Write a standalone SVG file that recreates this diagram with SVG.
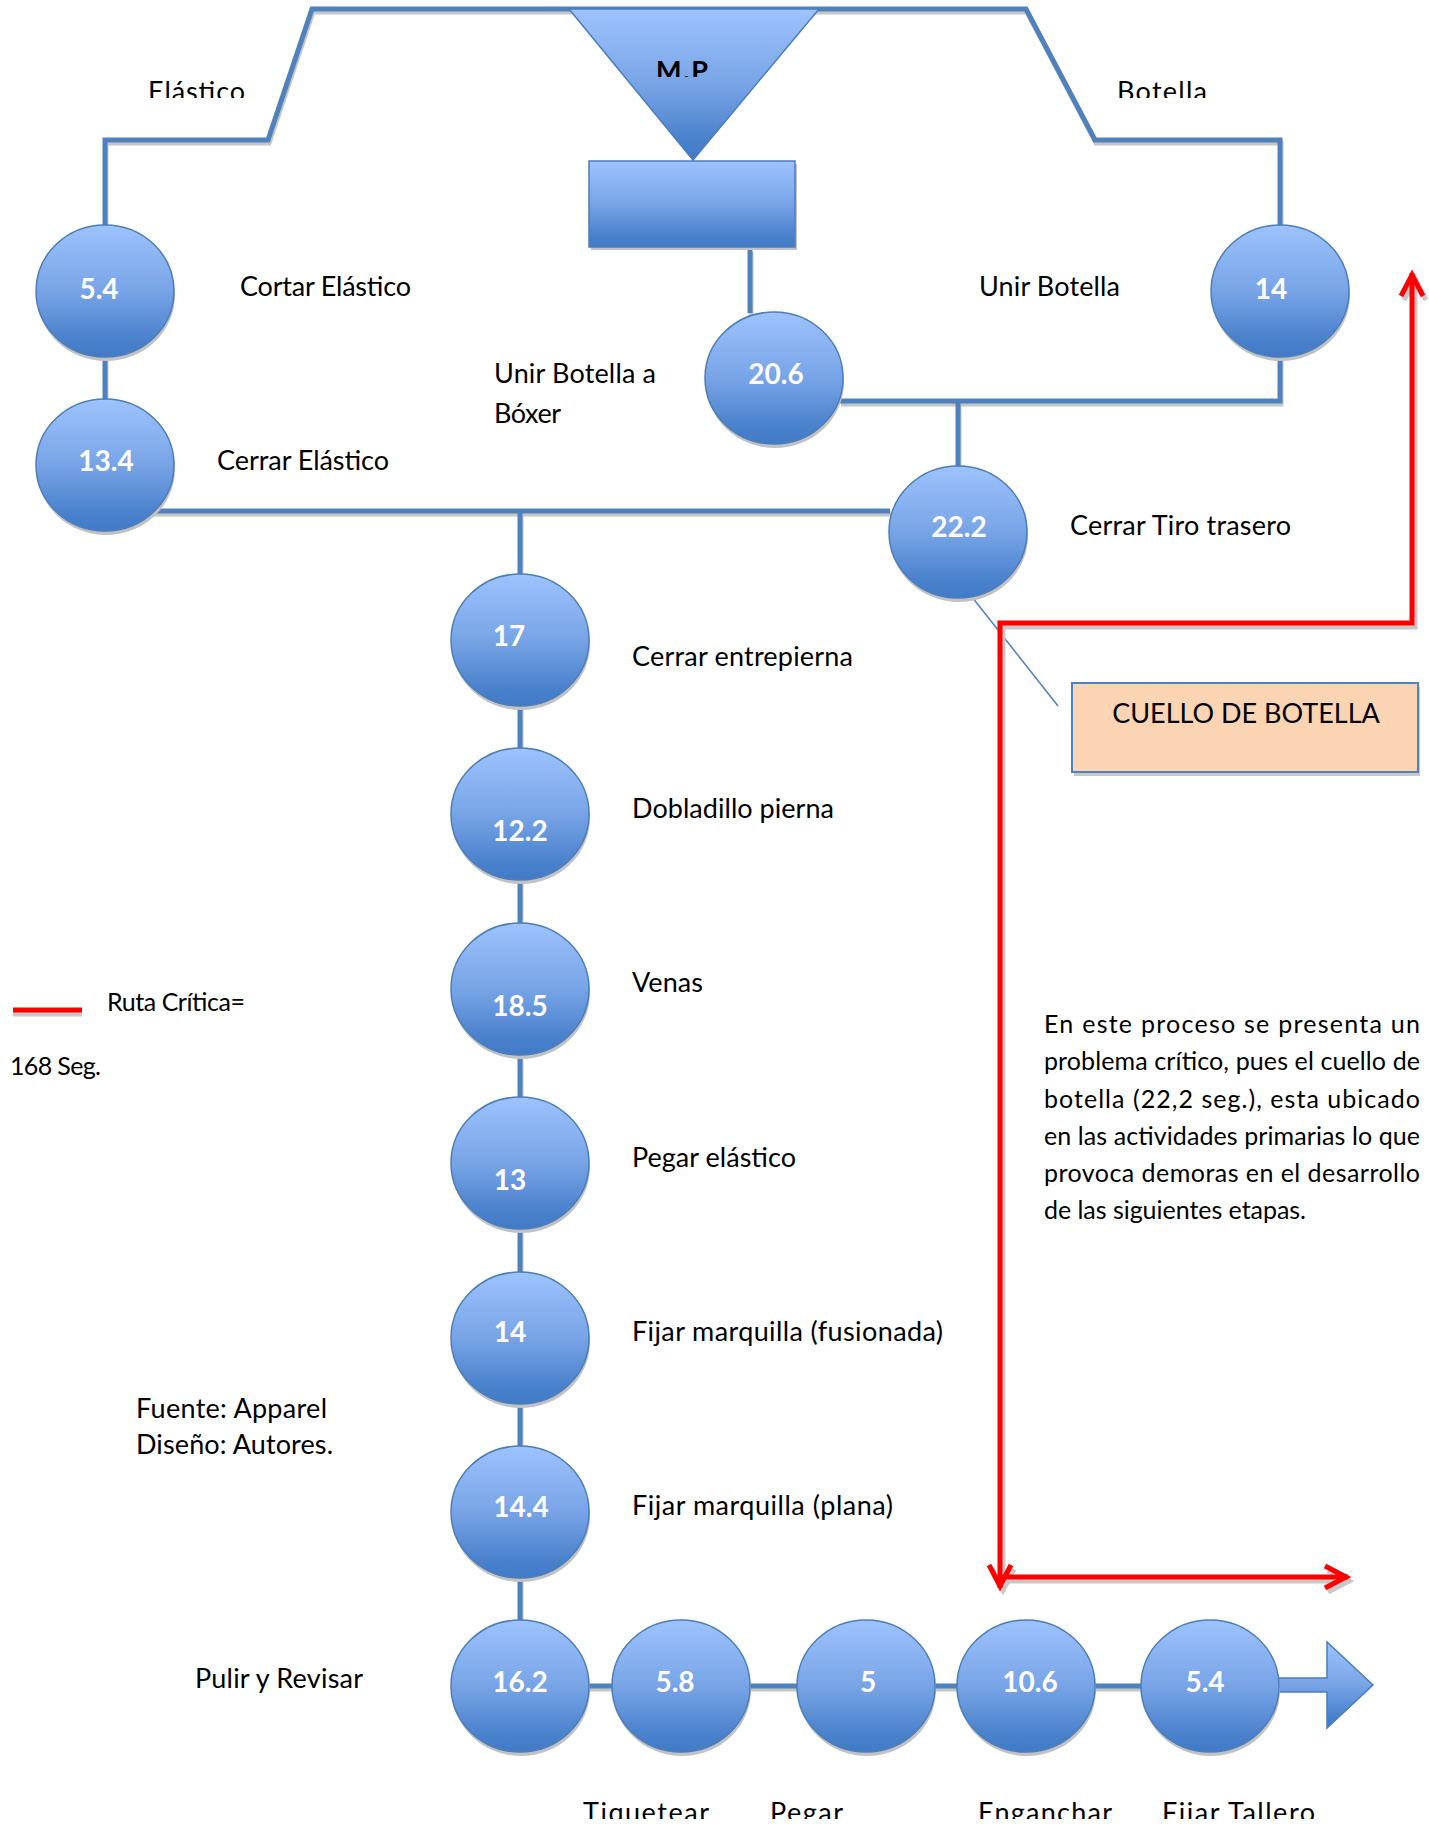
<svg xmlns="http://www.w3.org/2000/svg" width="1429" height="1824" viewBox="0 0 1429 1824">
<style>
.lbl{font-family:Lato,"Liberation Sans",sans-serif;font-size:27px;fill:#000}
.sm{font-size:25px}
.par{font-family:Lato,"Liberation Sans",sans-serif;font-size:25px;fill:#000}
.num{font-family:Lato,"Liberation Sans",sans-serif;font-weight:bold;font-size:28px;fill:#fff;text-anchor:middle}
.conn{stroke:#4F81BD;stroke-width:5;fill:none}
.connsh{stroke:#C6C6C6;stroke-width:5;fill:none}
.node{fill:url(#g);stroke:#4A7EBB;stroke-width:1.5}
.sh{fill:#C2C2C2}
.red{stroke:#FF0000;stroke-width:5;fill:none}
.redsh{stroke:#C8C8C8;stroke-width:5;fill:none}
</style>
<defs>
<linearGradient id="g" x1="0" y1="0" x2="0" y2="1">
<stop offset="0" stop-color="#9EC3FD"/>
<stop offset="0.5" stop-color="#78A4E6"/>
<stop offset="0.88" stop-color="#4880CB"/>
<stop offset="1" stop-color="#427AC6"/>
</linearGradient>
<marker id="ar" markerUnits="userSpaceOnUse" orient="auto-start-reverse" refX="0" refY="0" markerWidth="1" markerHeight="1" overflow="visible">
<path d="M-23,-11 L-2,0 L-23,11" fill="none" stroke="#FF0000" stroke-width="5"/>
</marker>
<marker id="arsh" markerUnits="userSpaceOnUse" orient="auto-start-reverse" refX="0" refY="0" markerWidth="1" markerHeight="1" overflow="visible">
<path d="M-23,-11 L-2,0 L-23,11" fill="none" stroke="#C8C8C8" stroke-width="5"/>
</marker>
<clipPath id="cTop"><rect x="0" y="0" width="1429" height="98"/></clipPath>
<clipPath id="cMP"><rect x="0" y="0" width="1429" height="77"/></clipPath>
<clipPath id="cBot"><rect x="0" y="0" width="1429" height="1819"/></clipPath>
</defs>
<rect width="1429" height="1824" fill="#fff"/>

<g id="connectors">
<g transform="translate(1,3)">
<path class="connsh" d="M105,227 V140 H268 L312,9 H1026 L1095,140 H1280 V227"/>
<path class="connsh" d="M105,357 V400 M750,249 V313 M840,401 H1280 V357 M958,401 V466 M150,511 H890 M520,511 V1686 H1210"/>
</g>
<path class="conn" d="M105,227 V140 H268 L312,9 H1026 L1095,140 H1280 V227"/>
<path class="conn" d="M105,357 V400 M750,249 V313 M840,401 H1280 V357 M958,401 V466 M150,511 H890 M520,511 V1686 H1210"/>
<line x1="972" y1="597" x2="1058" y2="706" stroke="#4F81BD" stroke-width="1.5"/>
</g>

<g id="node-mp">
<polygon points="569,9 819,9 693,160" fill="url(#g)" stroke="#4A7EBB" stroke-width="1.5"/>
<text class="lbl" x="656" y="80" font-weight="bold" font-size="29" textLength="52" clip-path="url(#cMP)">M.P</text>
</g>
<g id="node-box">
<rect x="591" y="164" width="206" height="86" class="sh"/>
<rect x="589" y="161" width="206" height="86" class="node"/>
</g>

<g id="label-elastico" clip-path="url(#cTop)"><text class="lbl" x="148" y="101" textLength="97">Elástico</text></g>
<g id="label-botella" clip-path="url(#cTop)"><text class="lbl" x="1117" y="101" textLength="90">Botella</text></g>

<g id="node-5-4a">
<ellipse class="sh" cx="106" cy="295" rx="69" ry="66"/>
<ellipse class="node" cx="105" cy="291" rx="69" ry="66"/>
<text class="num" x="99" y="299">5.4</text>
<text class="lbl" x="240" y="296" textLength="171">Cortar Elástico</text>
</g>
<g id="node-13-4">
<ellipse class="sh" cx="106" cy="469" rx="69" ry="66"/>
<ellipse class="node" cx="105" cy="465" rx="69" ry="66"/>
<text class="num" x="106" y="471">13.4</text>
<text class="lbl" x="217" y="470" textLength="172">Cerrar Elástico</text>
</g>
<g id="node-20-6">
<ellipse class="sh" cx="775" cy="382" rx="69" ry="66"/>
<ellipse class="node" cx="774" cy="378" rx="69" ry="66"/>
<text class="num" x="776" y="384">20.6</text>
<text class="lbl" x="494" y="383" textLength="162">Unir Botella a</text>
<text class="lbl" x="494" y="423" textLength="67">Bóxer</text>
</g>
<g id="node-14a">
<ellipse class="sh" cx="1281" cy="295" rx="69" ry="66"/>
<ellipse class="node" cx="1280" cy="291" rx="69" ry="66"/>
<text class="num" x="1271" y="299">14</text>
<text class="lbl" x="979" y="296" textLength="141">Unir Botella</text>
</g>
<g id="node-22-2">
<ellipse class="sh" cx="959" cy="536" rx="69" ry="66"/>
<ellipse class="node" cx="958" cy="532" rx="69" ry="66"/>
<text class="num" x="959" y="537">22.2</text>
<text class="lbl" x="1070" y="535" textLength="221">Cerrar Tiro trasero</text>
</g>
<g id="node-17">
<ellipse class="sh" cx="521" cy="644" rx="69" ry="66"/>
<ellipse class="node" cx="520" cy="640" rx="69" ry="66"/>
<text class="num" x="509" y="646">17</text>
<text class="lbl" x="632" y="666" textLength="221">Cerrar entrepierna</text>
</g>
<g id="node-12-2">
<ellipse class="sh" cx="521" cy="818" rx="69" ry="66"/>
<ellipse class="node" cx="520" cy="814" rx="69" ry="66"/>
<text class="num" x="520" y="841">12.2</text>
<text class="lbl" x="632" y="818" textLength="202">Dobladillo pierna</text>
</g>
<g id="node-18-5">
<ellipse class="sh" cx="521" cy="993" rx="69" ry="66"/>
<ellipse class="node" cx="520" cy="989" rx="69" ry="66"/>
<text class="num" x="520" y="1016">18.5</text>
<text class="lbl" x="632" y="992" textLength="71">Venas</text>
</g>
<g id="node-13">
<ellipse class="sh" cx="521" cy="1167" rx="69" ry="66"/>
<ellipse class="node" cx="520" cy="1163" rx="69" ry="66"/>
<text class="num" x="510" y="1190">13</text>
<text class="lbl" x="632" y="1167" textLength="164">Pegar elástico</text>
</g>
<g id="node-14b">
<ellipse class="sh" cx="521" cy="1342" rx="69" ry="66"/>
<ellipse class="node" cx="520" cy="1338" rx="69" ry="66"/>
<text class="num" x="510" y="1342">14</text>
<text class="lbl" x="632" y="1341" textLength="311">Fijar marquilla (fusionada)</text>
</g>
<g id="node-14-4">
<ellipse class="sh" cx="521" cy="1516" rx="69" ry="66"/>
<ellipse class="node" cx="520" cy="1512" rx="69" ry="66"/>
<text class="num" x="521" y="1517">14.4</text>
<text class="lbl" x="632" y="1515" textLength="261">Fijar marquilla (plana)</text>
</g>

<g id="end-arrow">
<polygon points="1270,1678 1327,1678 1327,1642 1373,1685 1327,1728 1327,1692 1270,1692" fill="url(#g)" stroke="#4A7EBB" stroke-width="1.5"/>
</g>

<g id="node-16-2">
<ellipse class="sh" cx="521" cy="1690" rx="69" ry="66"/>
<ellipse class="node" cx="520" cy="1686" rx="69" ry="66"/>
<text class="num" x="520" y="1692">16.2</text>
<text class="lbl" x="195" y="1688" textLength="168">Pulir y Revisar</text>
</g>
<g id="node-5-8">
<ellipse class="sh" cx="682" cy="1690" rx="69" ry="66"/>
<ellipse class="node" cx="681" cy="1686" rx="69" ry="66"/>
<text class="num" x="675" y="1692">5.8</text>
</g>
<g id="node-5">
<ellipse class="sh" cx="867" cy="1690" rx="69" ry="66"/>
<ellipse class="node" cx="866" cy="1686" rx="69" ry="66"/>
<text class="num" x="868" y="1692">5</text>
</g>
<g id="node-10-6">
<ellipse class="sh" cx="1027" cy="1690" rx="69" ry="66"/>
<ellipse class="node" cx="1026" cy="1686" rx="69" ry="66"/>
<text class="num" x="1030" y="1692">10.6</text>
</g>
<g id="node-5-4b">
<ellipse class="sh" cx="1211" cy="1690" rx="69" ry="66"/>
<ellipse class="node" cx="1210" cy="1686" rx="69" ry="66"/>
<text class="num" x="1205" y="1692">5.4</text>
</g>

<g id="bottom-labels" clip-path="url(#cBot)">
<text class="lbl" x="583" y="1822" textLength="126">Tiquetear</text>
<text class="lbl" x="770" y="1822" textLength="73">Pegar</text>
<text class="lbl" x="978" y="1822" textLength="134">Enganchar</text>
<text class="lbl" x="1162" y="1822" textLength="153">Fijar Tallero</text>
</g>

<g id="critical-path">
<g transform="translate(3,4)">
<path class="redsh" d="M1000,1588 V623 H1412 V273" marker-start="url(#arsh)" marker-end="url(#arsh)"/>
<path class="redsh" d="M1000,1577 H1348" marker-end="url(#arsh)"/>
</g>
<path class="red" d="M1000,1588 V623 H1412 V273" marker-start="url(#ar)" marker-end="url(#ar)"/>
<path class="red" d="M1000,1577 H1348" marker-end="url(#ar)"/>
</g>

<g id="note-cuello">
<rect x="1074" y="687" width="346" height="89" fill="#C8C8C8"/>
<rect x="1072" y="683" width="346" height="89" fill="#FBD4B4" stroke="#4F81BD" stroke-width="2"/>
<text class="lbl" x="1246" y="723" font-size="23" text-anchor="middle">CUELLO DE BOTELLA</text>
</g>

<g id="legend">
<line x1="13" y1="1014" x2="82" y2="1014" stroke="#C8C8C8" stroke-width="5"/>
<line x1="13" y1="1010" x2="82" y2="1010" stroke="#FF0000" stroke-width="5"/>
<text class="lbl sm" x="107" y="1011" textLength="138">Ruta Crítica=</text>
<text class="lbl sm" x="10" y="1075" textLength="91">168 Seg.</text>
</g>

<g id="source">
<text class="lbl" x="136" y="1418" textLength="191">Fuente: Apparel</text>
<text class="lbl" x="136" y="1454" textLength="197">Diseño: Autores.</text>
</g>

<g id="paragraph">
<text class="par" x="1044" y="1033" textLength="376">En este proceso se presenta un</text>
<text class="par" x="1044" y="1070" textLength="376">problema crítico, pues el cuello de</text>
<text class="par" x="1044" y="1108" textLength="376">botella (22,2 seg.), esta ubicado</text>
<text class="par" x="1044" y="1145" textLength="376">en las actividades primarias lo que</text>
<text class="par" x="1044" y="1182" textLength="376">provoca demoras en el desarrollo</text>
<text class="par" x="1044" y="1219" textLength="262">de las siguientes etapas.</text>
</g>
</svg>
